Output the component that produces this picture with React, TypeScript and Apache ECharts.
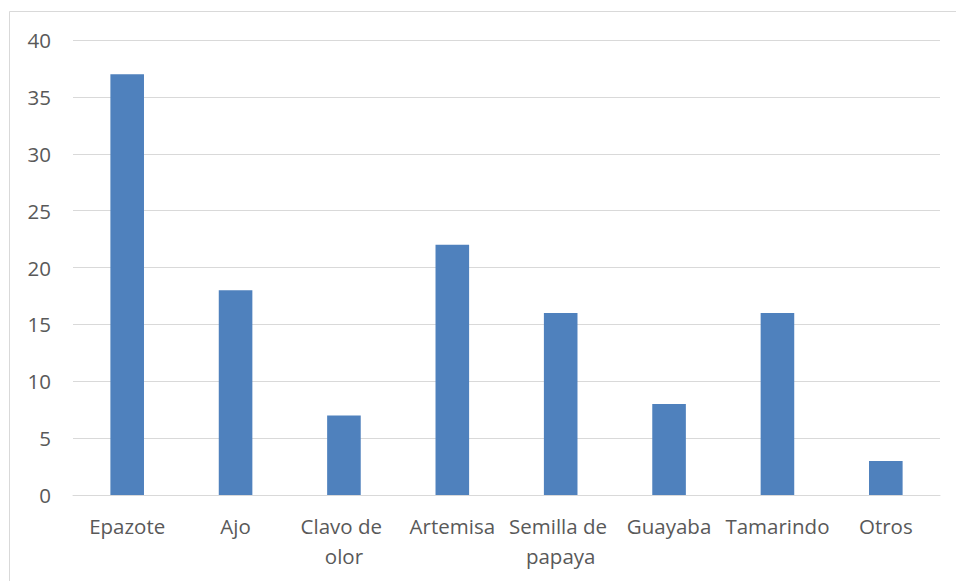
import React, { useEffect, useRef } from "react";
import * as echarts from "echarts";

const categories = ["Epazote", "Ajo", "Clavo de olor", "Artemisa", "Semilla de papaya", "Guayaba", "Tamarindo", "Otros"];
const values = [37, 18, 7, 22, 16, 8, 16, 3];

export default function App() {
  const ref = useRef<HTMLDivElement>(null);
  useEffect(() => {
    const chart = echarts.init(ref.current!, null, { renderer: "svg" });
    chart.setOption({
      animation: false,
      backgroundColor: "#ffffff",
      graphic: [
        {
          type: "rect",
          shape: { x: 9.5, y: 11.5, width: 1000, height: 1000 },
          style: { fill: "none", stroke: "#d9d9d9", lineWidth: 1 },
          silent: true,
        },
      ],
      grid: { left: 73, right: 16, top: 40, bottom: 86 },
      xAxis: {
        type: "category",
        data: categories,
        axisLine: { lineStyle: { color: "#d9d9d9", width: 1 } },
        axisTick: { show: false },
        axisLabel: {
          interval: 0,
          color: "#595959",
          fontSize: 20.5,
          fontFamily: "Open Sans",
          margin: 16,
          lineHeight: 30,
          width: 112,
          overflow: "break",
        },
      },
      yAxis: {
        type: "value",
        min: 0,
        max: 40,
        interval: 5,
        axisLine: { show: false },
        axisTick: { show: false },
        splitLine: { lineStyle: { color: "#d9d9d9", width: 1 } },
        axisLabel: { color: "#595959", fontSize: 20.5, fontFamily: "Open Sans", margin: 22 },
      },
      series: [
        {
          type: "bar",
          data: values,
          barWidth: "31%",
          itemStyle: { color: "#4f81bd" },
        },
      ],
    });
    return () => chart.dispose();
  }, []);
  return <div ref={ref} style={{ position: "fixed", left: 0, top: 0, width: 956, height: 581 }} />;
}
